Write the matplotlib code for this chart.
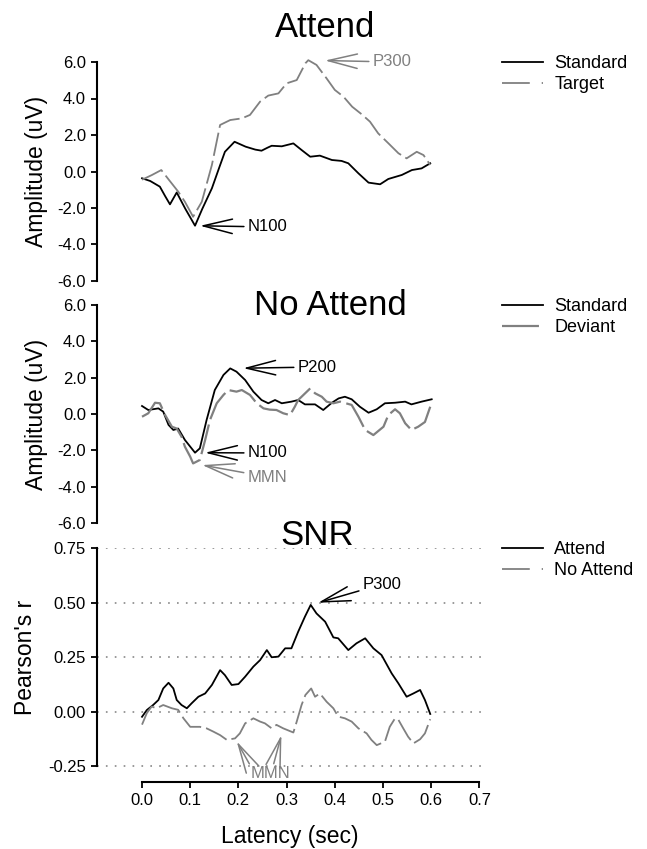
import numpy as np
import matplotlib
matplotlib.use("Agg")
import matplotlib.pyplot as plt
from matplotlib.lines import Line2D

plt.rcParams["font.family"] = ["Liberation Sans", "DejaVu Sans"]
plt.rcParams["lines.scale_dashes"] = False

GRAY = "#808080"

# --- Attend panel (uV) ---
att_std_t = [0.000, 0.017, 0.037, 0.048, 0.058, 0.072, 0.090, 0.110, 0.125, 0.145, 0.160, 0.172,
             0.192, 0.215, 0.235, 0.248, 0.260, 0.269, 0.290, 0.314, 0.331, 0.349, 0.369, 0.394,
             0.414, 0.428, 0.449, 0.470, 0.494, 0.511, 0.539, 0.560, 0.580, 0.598]
att_std_v = [-0.37, -0.52, -0.83, -1.35, -1.80, -1.15, -2.05, -2.97, -2.05, -0.92, 0.20, 1.08,
             1.63, 1.36, 1.20, 1.14, 1.30, 1.41, 1.38, 1.54, 1.18, 0.81, 0.87, 0.63,
             0.58, 0.45, -0.10, -0.61, -0.70, -0.41, -0.19, 0.08, 0.17, 0.45]
att_tgt_t = [0.000, 0.020, 0.040, 0.055, 0.075, 0.089, 0.106, 0.124, 0.145, 0.162, 0.183, 0.207,
             0.224, 0.245, 0.262, 0.283, 0.300, 0.321, 0.339, 0.345, 0.362, 0.383, 0.400, 0.418,
             0.436, 0.456, 0.473, 0.490, 0.511, 0.532, 0.549, 0.570, 0.584, 0.598]
att_tgt_v = [-0.45, -0.20, 0.08, -0.43, -1.10, -1.66, -2.48, -1.66, 0.36, 2.55, 2.82, 2.91,
             3.10, 3.83, 4.16, 4.28, 4.83, 5.01, 5.93, 6.10, 5.84, 5.10, 4.47, 4.10,
             3.55, 3.13, 2.73, 2.09, 1.55, 1.00, 0.72, 1.08, 0.90, 0.36]

# --- No Attend panel (uV) ---
noatt_std_t = [0.000, 0.013, 0.034, 0.044, 0.055, 0.065, 0.075, 0.089, 0.110, 0.120, 0.134, 0.151,
               0.169, 0.183, 0.196, 0.214, 0.231, 0.248, 0.262, 0.276, 0.290, 0.310, 0.324, 0.338,
               0.359, 0.376, 0.394, 0.408, 0.421, 0.435, 0.452, 0.470, 0.487, 0.504, 0.525, 0.546,
               0.559, 0.580, 0.601]
noatt_std_v = [0.44, 0.22, 0.31, 0.13, -0.60, -0.88, -0.80, -1.43, -2.13, -1.89, -0.33, 1.32,
               2.15, 2.51, 2.33, 1.87, 1.23, 0.77, 0.59, 0.77, 0.59, 0.68, 0.77, 0.53,
               0.53, 0.22, 0.62, 0.86, 0.95, 0.81, 0.40, 0.07, 0.26, 0.59, 0.62, 0.68,
               0.53, 0.68, 0.81]
noatt_dev_t = [0.000, 0.013, 0.027, 0.037, 0.048, 0.062, 0.072, 0.082, 0.089, 0.100, 0.106, 0.120,
               0.131, 0.141, 0.155, 0.169, 0.179, 0.196, 0.207, 0.224, 0.238, 0.252, 0.265, 0.279,
               0.293, 0.307, 0.317, 0.324, 0.349, 0.359, 0.373, 0.383, 0.397, 0.411, 0.435, 0.449,
               0.463, 0.480, 0.501, 0.511, 0.525, 0.535, 0.546, 0.559, 0.573, 0.587, 0.598]
noatt_dev_v = [-0.15, 0.04, 0.62, 0.59, -0.06, -0.70, -0.80, -1.25, -1.80, -2.35, -2.72, -2.53,
               -1.43, -0.33, 0.59, 1.05, 1.32, 1.23, 1.32, 1.05, 0.59, 0.31, 0.24, 0.22,
               0.04, -0.06, 0.40, 0.77, 1.41, 1.14, 0.95, 0.68, 0.59, 0.68, 0.50, -0.15,
               -0.88, -1.16, -0.70, -0.06, 0.26, 0.04, -0.51, -0.88, -0.70, -0.44, 0.40]

# --- SNR panel (Pearson's r) ---
snr_att_t = [0.000, 0.010, 0.023, 0.034, 0.044, 0.055, 0.065, 0.072, 0.082, 0.093, 0.103, 0.117,
             0.131, 0.145, 0.162, 0.172, 0.186, 0.200, 0.214, 0.231, 0.245, 0.259, 0.269, 0.283,
             0.297, 0.310, 0.324, 0.338, 0.350, 0.362, 0.380, 0.397, 0.407, 0.428, 0.445, 0.463,
             0.480, 0.497, 0.518, 0.532, 0.549, 0.563, 0.577, 0.587, 0.598]
snr_att_v = [-0.024, 0.007, 0.030, 0.053, 0.106, 0.132, 0.106, 0.053, 0.030, 0.015, 0.038, 0.068,
             0.083, 0.122, 0.190, 0.167, 0.122, 0.126, 0.160, 0.206, 0.236, 0.282, 0.249, 0.252,
             0.290, 0.290, 0.366, 0.435, 0.489, 0.450, 0.412, 0.340, 0.336, 0.282, 0.313, 0.336,
             0.290, 0.259, 0.175, 0.129, 0.068, 0.083, 0.099, 0.053, -0.011]
snr_noatt_t = [0.000, 0.010, 0.020, 0.030, 0.044, 0.062, 0.075, 0.086, 0.100, 0.120, 0.134, 0.148,
               0.162, 0.176, 0.193, 0.203, 0.214, 0.231, 0.245, 0.255, 0.269, 0.279, 0.293, 0.314,
               0.321, 0.331, 0.339, 0.351, 0.359, 0.369, 0.383, 0.397, 0.407, 0.421, 0.435, 0.449,
               0.466, 0.476, 0.487, 0.504, 0.514, 0.525, 0.532, 0.542, 0.552, 0.563, 0.577, 0.587,
               0.598]
snr_noatt_v = [-0.060, -0.007, 0.023, 0.015, 0.030, 0.015, 0.008, -0.031, -0.070, -0.070, -0.077, -0.092,
               -0.108, -0.130, -0.123, -0.100, -0.054, -0.031, -0.046, -0.054, -0.077, -0.061, -0.077, -0.096,
               -0.046, 0.030, 0.076, 0.106, 0.068, 0.083, 0.045, 0.015, -0.023, -0.031, -0.046, -0.077,
               -0.100, -0.130, -0.154, -0.138, -0.070, -0.031, -0.038, -0.077, -0.115, -0.146, -0.127, -0.100,
               -0.035]

amp_ticks = [-6.0, -4.0, -2.0, 0.0, 2.0, 4.0, 6.0]
r_ticks = [-0.25, 0.0, 0.25, 0.50, 0.75]
lat_ticks = [0.0, 0.1, 0.2, 0.3, 0.4, 0.5, 0.6, 0.7]

W, H = 647, 849
fig = plt.figure(figsize=(W / 100, H / 100), dpi=100)

def fx(px):
    return px / W

def fy(py):
    return 1 - py / H

left, width = fx(97), 385 / W
ax1 = fig.add_axes([left, fy(281), width, 219 / H])
ax2 = fig.add_axes([left, fy(523), width, 218 / H])
ax3 = fig.add_axes([left, fy(782), width, 234 / H])

LW = 1.3
data_dash = (17, 3.6)
leg_dash = (20, 8.6, 3, 8.6)
dev_leg_dash = (26.6, 14)

xlim = (-0.0934, 0.7054)

for ax in (ax1, ax2, ax3):
    ax.set_xlim(*xlim)
    for s in ("top", "right"):
        ax.spines[s].set_visible(False)
    ax.spines["left"].set_linewidth(1.5)
    ax.tick_params(axis="y", direction="out", length=4, width=1.3, labelsize=12, pad=4)

for ax in (ax1, ax2):
    ax.spines["bottom"].set_visible(False)
    ax.set_xticks([])
    ax.set_ylim(-6, 6)
    ax.set_yticks(amp_ticks)
    ax.set_yticklabels([f"{v:.1f}" for v in amp_ticks])
    ax.set_ylabel("Amplitude (uV)", fontsize=16.5)
    ax.yaxis.set_label_coords(-0.127, 0.5)

# Attend
ax1.plot(att_std_t, att_std_v, color="black", lw=LW)
ax1.plot(att_tgt_t, att_tgt_v, color=GRAY, lw=LW, dashes=data_dash, clip_on=False)

# No Attend
ax2.plot(noatt_std_t, noatt_std_v, color="black", lw=LW)
ax2.plot(noatt_dev_t, noatt_dev_v, color=GRAY, lw=LW + 0.3, dashes=(22, 4))

# SNR
ax3.set_ylim(-0.323, 0.75)
ax3.set_yticks(r_ticks)
ax3.set_yticklabels([f"{v:.2f}" for v in r_ticks])
ax3.spines["left"].set_bounds(-0.25, 0.75)
ax3.spines["bottom"].set_bounds(0.0, 0.7)
ax3.spines["bottom"].set_linewidth(1.5)
ax3.set_xticks(lat_ticks)
ax3.set_xticklabels([f"{v:.1f}" for v in lat_ticks])
ax3.tick_params(axis="x", direction="out", length=4, width=1.3, labelsize=12, pad=4)
ax3.yaxis.grid(True, color="#888888", lw=1.2, linestyle=(0, (1.2, 5.2)))
ax3.set_axisbelow(True)
ax3.plot(snr_att_t, snr_att_v, color="black", lw=LW)
ax3.plot(snr_noatt_t, snr_noatt_v, color=GRAY, lw=LW, dashes=data_dash)
ax3.set_ylabel("Pearson's r", fontsize=16.5)
ax3.yaxis.set_label_coords(-0.156, 0.534)
ax3.set_xlabel("Latency (sec)", fontsize=16.5)
ax3.xaxis.set_label_coords(0.5, -0.184)

# titles
fig.text(fx(325), fy(37), "Attend", fontsize=25, ha="center", va="baseline")
fig.text(fx(330), fy(315), "No Attend", fontsize=25, ha="center", va="baseline")
fig.text(fx(317), fy(545), "SNR", fontsize=25, ha="center", va="baseline")

# legends
def legend(ax, handles, labels, top_px):
    ax.legend(handles, labels, loc="upper left", bbox_to_anchor=(fx(502), fy(top_px)),
              bbox_transform=fig.transFigure, frameon=False, borderpad=0, borderaxespad=0,
              handlelength=2.27, handletextpad=0.62, labelspacing=0.22, fontsize=13)

legend(ax1, [Line2D([], [], color="black", lw=LW),
             Line2D([], [], color=GRAY, lw=LW, dashes=leg_dash)], ["Standard", "Target"], 55)
legend(ax2, [Line2D([], [], color="black", lw=LW),
             Line2D([], [], color=GRAY, lw=LW + 0.3, dashes=dev_leg_dash)], ["Standard", "Deviant"], 298)
legend(ax3, [Line2D([], [], color="black", lw=LW),
             Line2D([], [], color=GRAY, lw=LW, dashes=leg_dash)], ["Attend", "No Attend"], 541)

# annotations
def arrow(color, shrink_b):
    return dict(arrowstyle="->,head_length=1.05,head_width=0.26", mutation_scale=20,
                lw=1.1, color=color, shrinkA=1, shrinkB=shrink_b)

def note(ax, text, xy, off, color, shrink_b, ha="left"):
    ax.annotate(text, xy=xy, xytext=off, textcoords="offset points", fontsize=12,
                color=color, ha=ha, va="center", arrowprops=arrow(color, shrink_b),
                annotation_clip=False)

i = int(np.argmin(att_std_v))
note(ax1, "N100", (att_std_t[i], att_std_v[i]), (38.2, -0.9), "black", 3.6)
i = int(np.argmax(att_tgt_v))
note(ax1, "P300", (att_tgt_t[i], att_tgt_v[i]), (46.6, -1.3), GRAY, 12)

i = int(np.argmax(noatt_std_v))
note(ax2, "P200", (noatt_std_t[i], noatt_std_v[i]), (48.8, 1.0), "black", 9.4)
i = int(np.argmin(noatt_std_v))
note(ax2, "N100", (noatt_std_t[i], noatt_std_v[i]), (38.2, -0.2), "black", 7.2)
i = int(np.argmin(noatt_dev_v))
note(ax2, "MMN", (noatt_dev_t[i], noatt_dev_v[i]), (39.5, -9.8), GRAY, 6.6)

i = int(np.argmax(snr_att_v))
note(ax3, "P300", (snr_att_t[i], snr_att_v[i]), (37.7, 15.0), "black", 5.6)

j1 = snr_noatt_t.index(0.193)
j2 = snr_noatt_t.index(0.293)
xy1 = (snr_noatt_t[j1], snr_noatt_v[j1])
xy2 = (snr_noatt_t[j2], snr_noatt_v[j2])
ax3.annotate("", xy=xy1, xytext=(10.8, -19.2), textcoords="offset points", arrowprops=arrow(GRAY, 2.5))
ax3.annotate("", xy=xy2, xytext=(-7.1, -26.4), textcoords="offset points", arrowprops=arrow(GRAY, 5))
ax3.annotate("MMN", xy=xy1, xytext=(25.2, -25), textcoords="offset points", fontsize=12,
             color=GRAY, ha="center", va="center")

fig.savefig("out.png", dpi=100)
